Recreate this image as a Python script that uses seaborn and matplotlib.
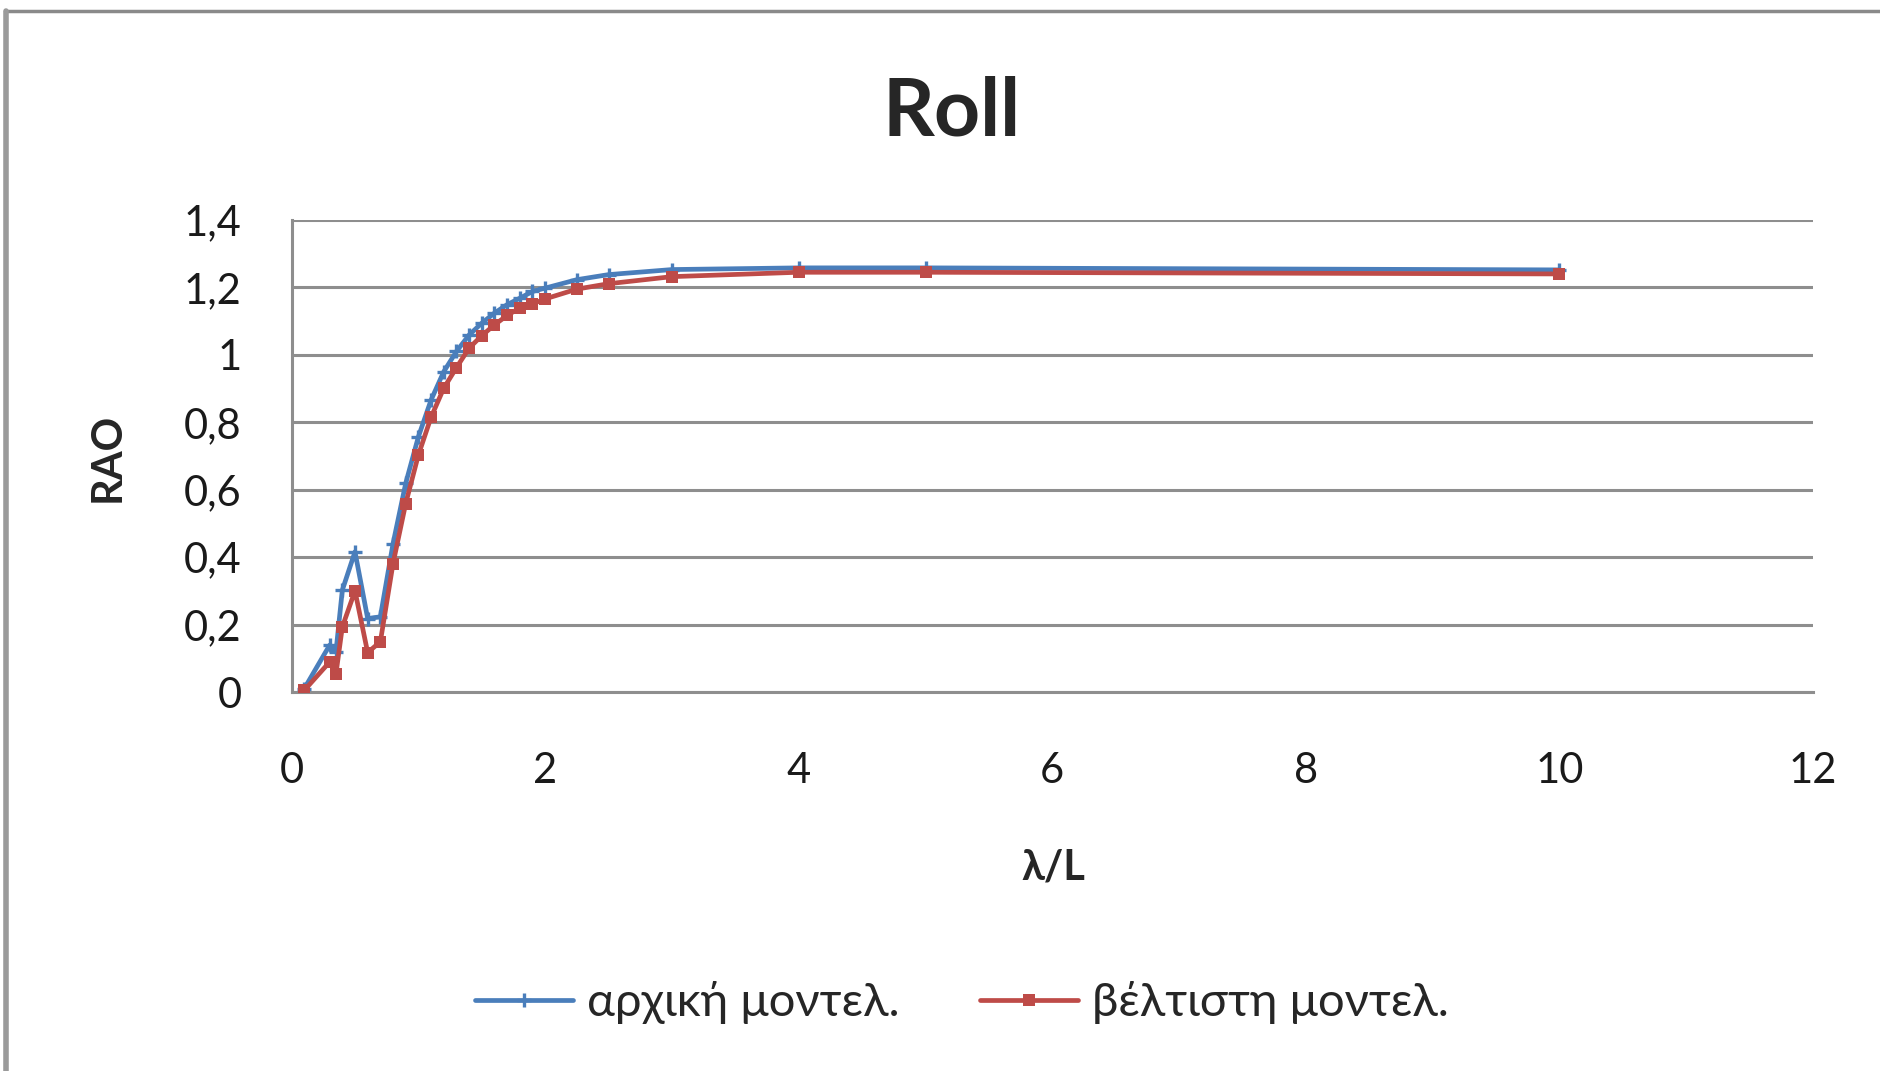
import matplotlib
matplotlib.use("Agg")
import matplotlib.pyplot as plt
from matplotlib.lines import Line2D
from matplotlib.ticker import FuncFormatter
import numpy as np
import pandas as pd
import seaborn as sns

# wavelength / ship length ratios
wave_ratio = [0.1, 0.3, 0.35, 0.4, 0.5, 0.6, 0.7, 0.8, 0.9, 1.0, 1.1, 1.2, 1.3,
              1.4, 1.5, 1.6, 1.7, 1.8, 1.9, 2.0, 2.25, 2.5, 3.0, 4.0, 5.0, 10.0]

# roll RAO, initial model
rao_initial = [0.01, 0.139, 0.12, 0.302, 0.416, 0.218, 0.223, 0.44, 0.619, 0.757,
               0.866, 0.950, 1.010, 1.059, 1.094, 1.124, 1.149, 1.168, 1.188, 1.198,
               1.223, 1.238, 1.253, 1.258, 1.258, 1.252]

# roll RAO, optimised model
rao_optimal = [0.005, 0.089, 0.054, 0.193, 0.300, 0.117, 0.149, 0.381, 0.559, 0.703,
               0.815, 0.901, 0.962, 1.020, 1.057, 1.089, 1.117, 1.139, 1.151, 1.166,
               1.195, 1.211, 1.232, 1.245, 1.245, 1.240]

series_names = ["αρχική μοντελ.", "βέλτιστη μοντελ."]
x_ticks = [0, 2, 4, 6, 8, 10, 12]
y_ticks = [0, 0.2, 0.4, 0.6, 0.8, 1.0, 1.2, 1.4]

sns.set_style("white")
plt.rcParams["font.family"] = ["Lato", "Open Sans", "DejaVu Sans"]

W, H = 1881, 1071
fig = plt.figure(figsize=(W / 100, H / 100), dpi=100)
ax = fig.add_axes([291.6 / W, 1 - 692 / H, (1813 - 291.6) / W, (692 - 220) / H])

blue = "#4A7EBB"
red = "#BE4B48"
grid_col = "#8E8E8E"

df = pd.DataFrame({
    "x": wave_ratio * 2,
    "y": rao_initial + rao_optimal,
    "model": [series_names[0]] * len(wave_ratio) + [series_names[1]] * len(wave_ratio),
})

sns.lineplot(data=df[df.model == series_names[0]], x="x", y="y", ax=ax,
             color=blue, lw=3.4, marker="+", markersize=10, mew=2.4,
             markeredgecolor=blue, zorder=3, legend=False)
sns.lineplot(data=df[df.model == series_names[1]], x="x", y="y", ax=ax,
             color=red, lw=3.4, marker="s", markersize=8.5, mew=0,
             markerfacecolor=red, zorder=4, legend=False)

ax.set_xlim(0, 12)
ax.set_ylim(0, 1.4)
ax.set_xticks(x_ticks)
ax.set_yticks(y_ticks)

fmt = FuncFormatter(lambda v, p: f"{v:g}".replace(".", ","))
ax.xaxis.set_major_formatter(fmt)
ax.yaxis.set_major_formatter(fmt)

ax.grid(axis="y", color=grid_col, lw=2.2)
ax.grid(axis="x", visible=False)
ax.set_axisbelow(True)
for side in ["top", "right"]:
    ax.spines[side].set_visible(False)
for side in ["left", "bottom"]:
    ax.spines[side].set_color(grid_col)
    ax.spines[side].set_linewidth(2.2)

ax.tick_params(axis="both", direction="out", length=12, width=2.2,
               color=grid_col, labelsize=30, labelcolor="#1a1a1a")
ax.tick_params(axis="x", pad=31)
ax.tick_params(axis="y", pad=24)
ax.set_xlabel("")
ax.set_ylabel("")

fig.text(952 / W, 1 - 136 / H, "Roll", ha="center", va="baseline",
         fontsize=58, fontweight="bold")
fig.text(107.5 / W, 1 - 457 / H, "RAO", ha="center", va="center",
         rotation=90, fontsize=30, fontweight="bold")
fig.text(1053 / W, 1 - 868 / H, "λ/L", ha="center", va="center",
         fontsize=30, fontweight="bold")

handles = [
    Line2D([], [], color=blue, lw=3.4, marker="+", markersize=10, mew=2.4),
    Line2D([], [], color=red, lw=3.4, marker="s", markersize=8.5, mew=0),
]
fig.legend(handles, series_names, loc="center", ncol=2,
           bbox_to_anchor=(962 / W, 1 - 1003 / H), frameon=False,
           fontsize=34, handlelength=2.08, handletextpad=0.3, columnspacing=1.7)

# chart frame
fig.add_artist(Line2D([5 / W, 1], [1 - 11 / H, 1 - 11 / H], color="#8A8A8A", lw=2.5,
                      transform=fig.transFigure))
fig.add_artist(Line2D([6 / W, 6 / W], [0, 1 - 11 / H], color="#9A9A9A", lw=4,
                      transform=fig.transFigure))

fig.savefig("out.png", dpi=100, facecolor="white")
